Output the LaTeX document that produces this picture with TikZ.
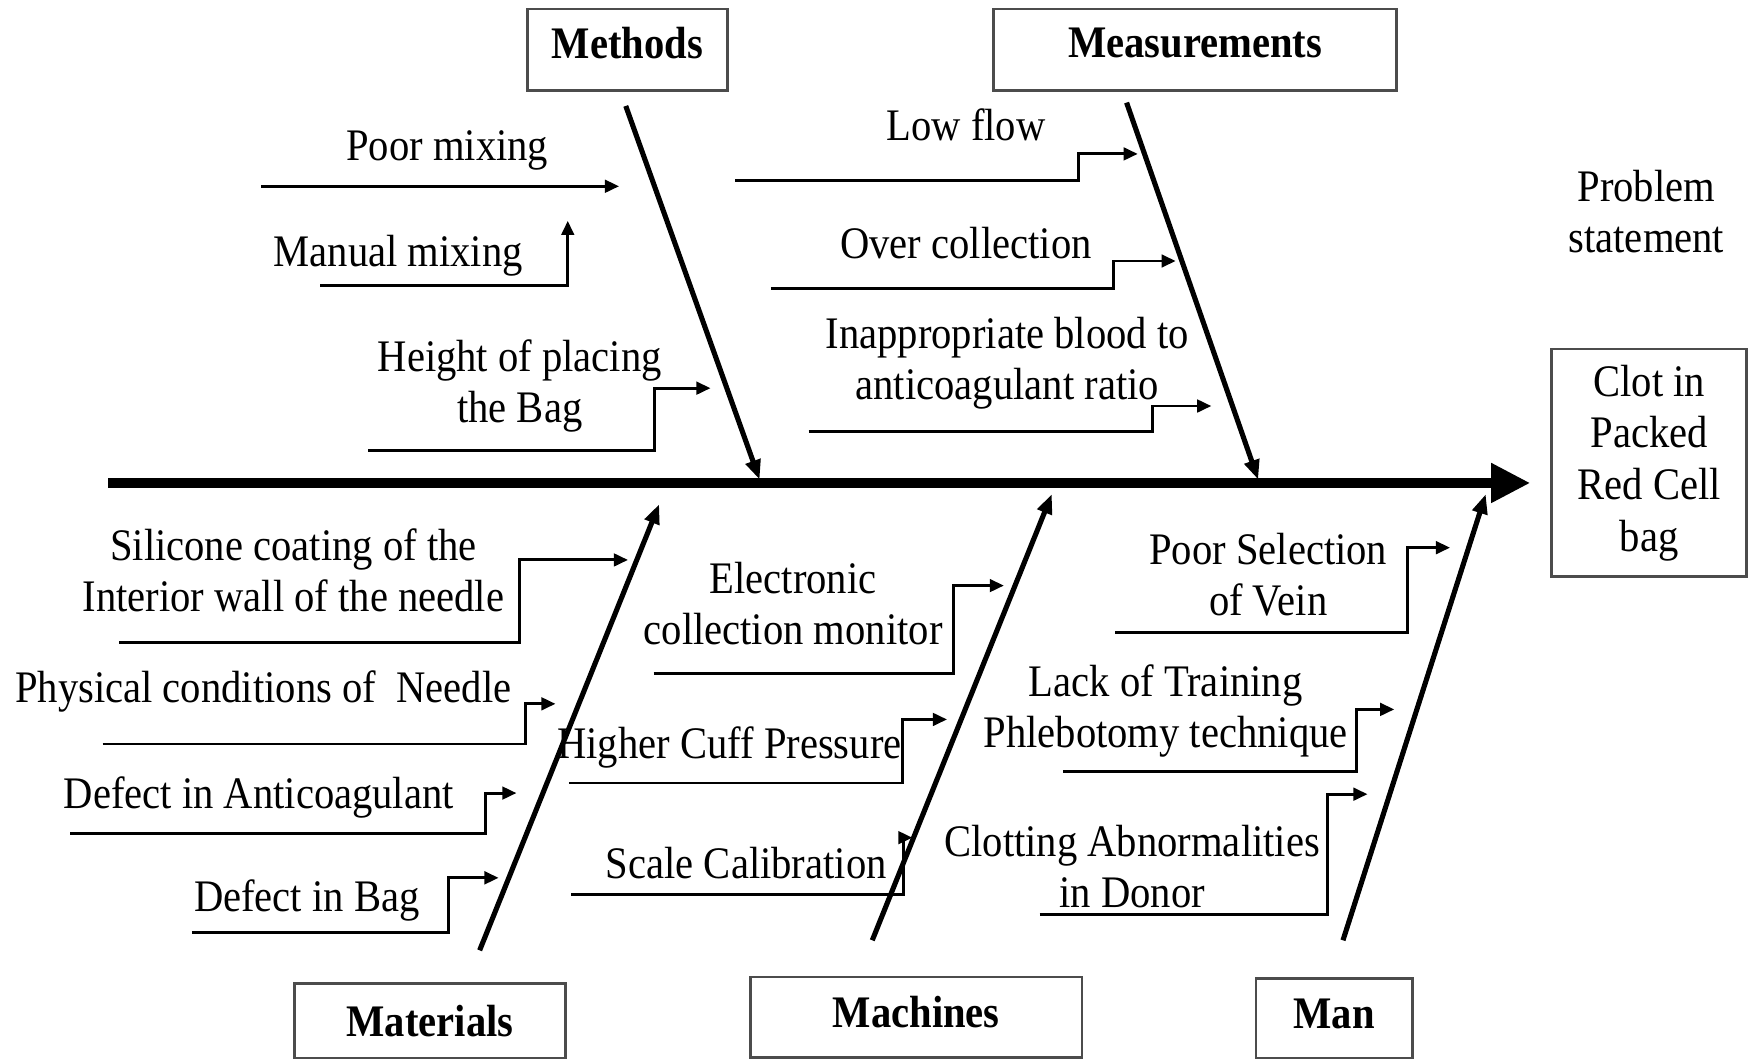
\documentclass[tikz,border=0pt]{standalone}
\usepackage{fontspec}
\setmainfont{Liberation Serif}[FakeStretch=0.9]
\usetikzlibrary{arrows.meta}
\begin{document}
\begin{tikzpicture}[x=0.01cm,y=-0.01cm,
  lbl/.style={inner sep=0pt, align=center, font=\fontsize{11.5}{13}\selectfont},
  head/.style={draw=black!70, line width=0.7pt, inner sep=0pt, align=center,
    font=\fontsize{11.5}{13}\selectfont\bfseries},
  spine/.style={line width=2.6pt, -{Triangle[length=10pt,width=9.5pt]}},
  bone/.style={line width=1.3pt, -{Triangle[length=5pt,width=3.8pt]}},
  sub/.style={line width=0.75pt, -{Triangle[length=3.6pt,width=3.2pt]}}]
\useasboundingbox (0,0) rectangle (1568,949);

% ---- category boxes and effect box ----
\node[head, minimum width=1.79cm, minimum height=0.73cm, text depth=0.12cm] (methods) at (562.5,44.5) {Methods};
\node[head, minimum width=3.61cm, minimum height=0.73cm, text depth=0.12cm] (measure) at (1071.5,44.5) {Measurements};
\node[head, minimum width=2.43cm, minimum height=0.67cm] (materials) at (385.5,915) {Materials};
\node[head, minimum width=2.97cm, minimum height=0.72cm, text depth=0.1cm] (machines) at (821.5,912) {Machines};
\node[head, minimum width=1.40cm, minimum height=0.71cm, text depth=0.08cm] (man) at (1196,913) {Man};
\node[head, font=\fontsize{11.5}{13.2}\selectfont,
  minimum width=1.75cm, minimum height=2.04cm]
  (clot) at (1478.5,415) {Clot in\\Packed\\Red Cell\\bag};
\node[lbl] (problem) at (1476,189.5) {Problem\\statement};

% ---- spine ----
\coordinate (tail) at (97,433);
\coordinate (tip) at (1372,433);
\draw[spine] (tail) -- (tip);

% ---- main bones ----
\coordinate (b1s) at (561,95);   \coordinate (b1e) at (681,430);
\coordinate (b2s) at (1010,92);  \coordinate (b2e) at (1128,430);
\coordinate (b3s) at (430,852);  \coordinate (b3e) at (591,452);
\coordinate (b4s) at (782,843);  \coordinate (b4e) at (943,443);
\coordinate (b5s) at (1204,843); \coordinate (b5e) at (1332,443);
\foreach \b in {1,...,5} \draw[bone] (b\b s) -- (b\b e);

% ---- Methods causes ----
\node[lbl] (c1) at (401,135) {Poor mixing};
\coordinate (c1a) at (234,167); \coordinate (c1t) at (555,167);
\draw[sub] (c1a) -- (c1t);

\node[lbl] (c2) at (357,229) {Manual mixing};
\coordinate (c2a) at (287,256); \coordinate (c2t) at (509,198);
\draw[sub] (c2a) -| (c2t);

\node[lbl] (c3) at (466,346) {Height of placing\\the Bag};
\coordinate (c3a) at (330,404); \coordinate (c3k) at (587,348); \coordinate (c3t) at (637,348);
\draw[sub] (c3a) -| (c3k) -- (c3t);

% ---- Measurements causes ----
\node[lbl] (c4) at (866,112) {Low flow};
\coordinate (c4a) at (659,162); \coordinate (c4k) at (967,138); \coordinate (c4t) at (1020,138);
\draw[sub] (c4a) -| (c4k) -- (c4t);

\node[lbl] (c5) at (866,218) {Over collection};
\coordinate (c5a) at (691,259); \coordinate (c5k) at (998,234); \coordinate (c5t) at (1054,234);
\draw[sub] (c5a) -| (c5k) -- (c5t);

\node[lbl] (c6) at (903,326) {Inappropriate blood to\\anticoagulant ratio};
\coordinate (c6a) at (725,387); \coordinate (c6k) at (1033,364); \coordinate (c6t) at (1086,364);
\draw[sub] (c6a) -| (c6k) -- (c6t);

% ---- Materials causes ----
\node[lbl] (c7) at (263,511) {Silicone coating of the\\Interior wall of the needle};
\coordinate (c7a) at (107,576); \coordinate (c7k) at (466,502); \coordinate (c7t) at (563,502);
\draw[sub] (c7a) -| (c7k) -- (c7t);

\node[lbl] (c8) at (236,620) {Physical conditions of\ \ Needle};
\coordinate (c8a) at (92,667); \coordinate (c8k) at (471,631); \coordinate (c8t) at (498,631);
\draw[sub] (c8a) -| (c8k) -- (c8t);

\node[lbl] (c9) at (232,715) {Defect in Anticoagulant};
\coordinate (c9a) at (63,747); \coordinate (c9k) at (435,711); \coordinate (c9t) at (463,711);
\draw[sub] (c9a) -| (c9k) -- (c9t);

\node[lbl] (c10) at (275,807) {Defect in Bag};
\coordinate (c10a) at (172,836); \coordinate (c10k) at (402,787); \coordinate (c10t) at (447,787);
\draw[sub] (c10a) -| (c10k) -- (c10t);

% ---- Machines causes ----
\node[lbl] (c11) at (711,541) {Electronic\\collection monitor};
\coordinate (c11a) at (586,604); \coordinate (c11k) at (855,525); \coordinate (c11t) at (900,525);
\draw[sub] (c11a) -| (c11k) -- (c11t);

\node[lbl] (c12) at (654,670) {Higher Cuff Pressure};
\coordinate (c12a) at (510,702); \coordinate (c12k) at (809,645); \coordinate (c12t) at (849,645);
\draw[sub] (c12a) -| (c12k) -- (c12t);

\node[lbl] (c13) at (669,774) {Scale Calibration};
\coordinate (c13a) at (512,802); \coordinate (c13k) at (810,751); \coordinate (c13t) at (818,751);
\draw[sub] (c13a) -| (c13k) -- (c13t);

% ---- Man causes ----
\node[lbl] (c14) at (1137,515.5) {Poor Selection\\of Vein};
\coordinate (c14a) at (1000,567); \coordinate (c14k) at (1262,491); \coordinate (c14t) at (1300,491);
\draw[sub] (c14a) -| (c14k) -- (c14t);

\node[lbl] (c15) at (1045,637) {Lack of Training\\Phlebotomy technique};
\coordinate (c15a) at (953,692); \coordinate (c15k) at (1216,636); \coordinate (c15t) at (1250,636);
\draw[sub] (c15a) -| (c15k) -- (c15t);

\node[lbl] (c16) at (1015,776.5) {Clotting Abnormalities\\in Donor};
\coordinate (c16a) at (932,820); \coordinate (c16k) at (1190,712); \coordinate (c16t) at (1226,712);
\draw[sub] (c16a) -| (c16k) -- (c16t);
\end{tikzpicture}
\end{document}
